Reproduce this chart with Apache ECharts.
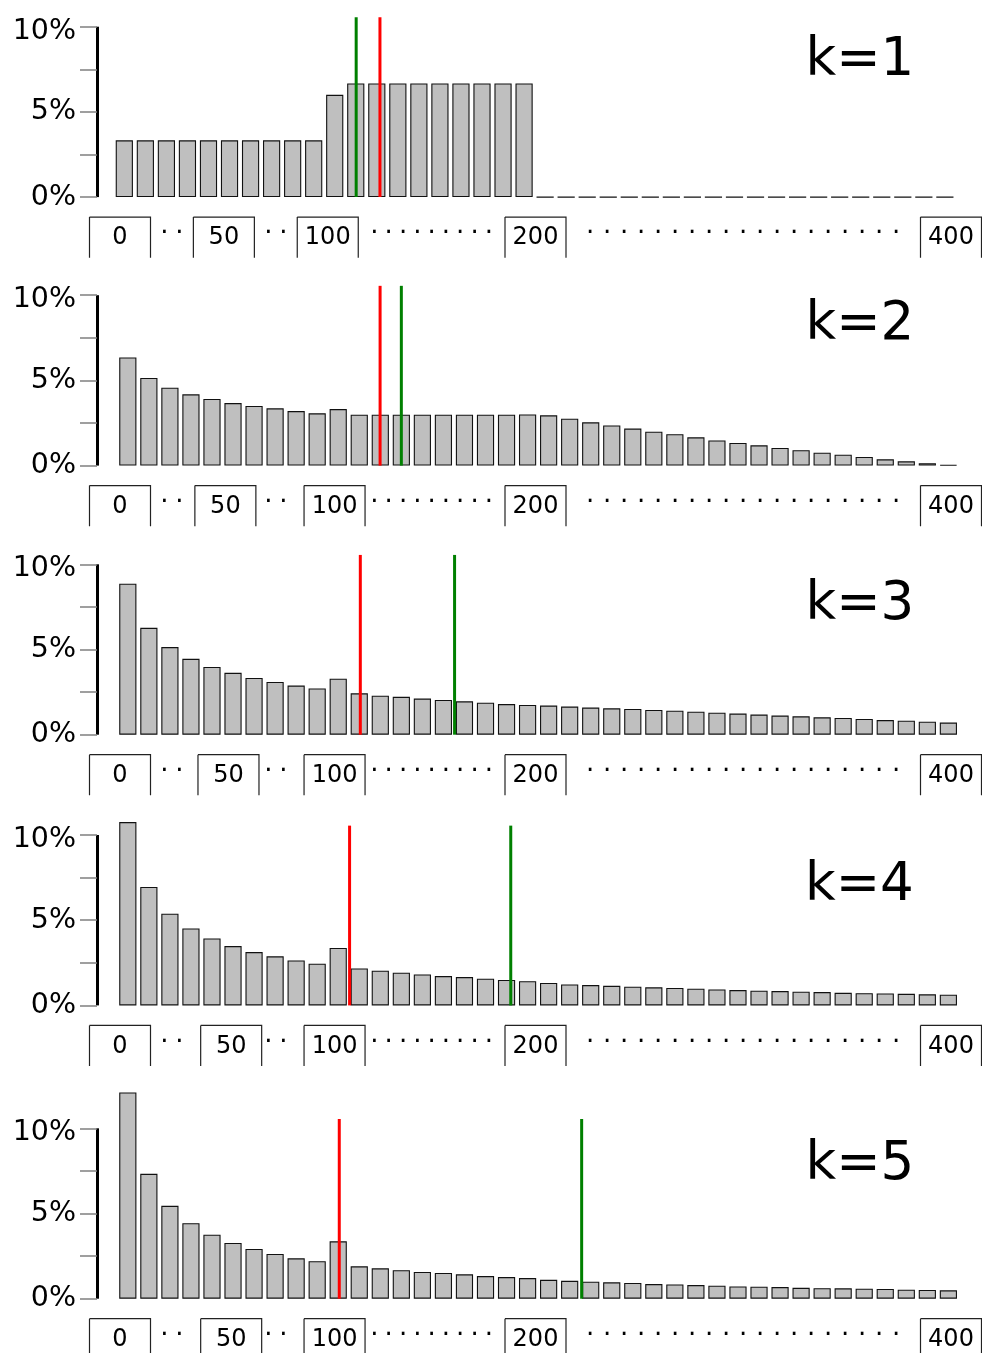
<!DOCTYPE html>
<html>
<head>
<meta charset="utf-8">
<script src="https://cdn.jsdelivr.net/npm/echarts@6/dist/echarts.min.js"></script>
<style>
  html, body { margin: 0; padding: 0; background: #fff; }
  #chart { width: 982px; height: 1353px; }
</style>
</head>
<body>
<div id="chart"></div>
<script>
// ---- data -------------------------------------------------------------
// bins of width 10 covering 0..400
const binStarts = [0, 10, 20, 30, 40, 50, 60, 70, 80, 90,
  100, 110, 120, 130, 140, 150, 160, 170, 180, 190,
  200, 210, 220, 230, 240, 250, 260, 270, 280, 290,
  300, 310, 320, 330, 340, 350, 360, 370, 380, 390];

const panelNames = ['k=1', 'k=2', 'k=3', 'k=4', 'k=5'];

// share of outcomes per bin, in percent
const shareK1 = [3.33, 3.33, 3.33, 3.33, 3.33, 3.33, 3.33, 3.33, 3.33, 3.33,
  6.00, 6.67, 6.67, 6.67, 6.67, 6.67, 6.67, 6.67, 6.67, 6.67,
  0, 0, 0, 0, 0, 0, 0, 0, 0, 0,
  0, 0, 0, 0, 0, 0, 0, 0, 0, 0];
const shareK2 = [6.35, 5.14, 4.57, 4.18, 3.91, 3.67, 3.50, 3.36, 3.20, 3.07,
  3.32, 2.99, 2.99, 2.99, 2.99, 2.99, 2.99, 2.99, 2.99, 3.00,
  2.95, 2.75, 2.54, 2.36, 2.17, 1.99, 1.84, 1.66, 1.48, 1.33,
  1.19, 1.04, 0.90, 0.76, 0.64, 0.51, 0.37, 0.25, 0.14, 0.04];
const shareK3 = [8.86, 6.27, 5.14, 4.45, 3.98, 3.63, 3.33, 3.10, 2.88, 2.71,
  3.29, 2.43, 2.29, 2.22, 2.12, 2.04, 1.96, 1.88, 1.80, 1.75,
  1.71, 1.65, 1.59, 1.55, 1.51, 1.45, 1.41, 1.35, 1.29, 1.24,
  1.18, 1.12, 1.08, 1.02, 0.98, 0.92, 0.86, 0.82, 0.76, 0.71];
const shareK4 = [10.76, 6.95, 5.38, 4.52, 3.93, 3.48, 3.13, 2.88, 2.64, 2.45,
  3.37, 2.17, 2.04, 1.92, 1.82, 1.72, 1.66, 1.57, 1.49, 1.42,
  1.32, 1.23, 1.19, 1.15, 1.10, 1.06, 1.02, 0.98, 0.94, 0.90,
  0.86, 0.84, 0.80, 0.78, 0.74, 0.72, 0.70, 0.68, 0.65, 0.63];
const shareK5 = [12.10, 7.33, 5.45, 4.43, 3.76, 3.27, 2.92, 2.63, 2.37, 2.20,
  3.37, 1.90, 1.78, 1.67, 1.57, 1.51, 1.43, 1.33, 1.27, 1.21,
  1.11, 1.05, 1.00, 0.96, 0.92, 0.86, 0.84, 0.80, 0.76, 0.72,
  0.70, 0.68, 0.64, 0.62, 0.61, 0.59, 0.57, 0.53, 0.51, 0.49];

// red and green reference values per panel
const redMarks = [126.5, 124.9, 115.5, 110.4, 105.5];
const greenMarks = [115.2, 135.0, 160.3, 187.0, 220.7];
const markTop = 10.55;   // how far up (in %) the reference lines reach

// tick labels of the value row and the number of dots between them
const rowTicks = [0, 50, 100, 200, 400];
const dotRuns = [2, 2, 9, 19];

// y axis ticks (percent)
const yMin = 0, yMax = 10, yStep = 2.5;

// ---- layout & style ---------------------------------------------------
const FONT = 'DejaVu Sans';
const gridTop = [26.7, 295.2, 564.3, 835.0, 1128.3];
const gridLeft = [113.8, 117.3, 117.3, 117.3, 117.3];
const gridW = 841.6, gridH = 170.4;
const axisX = 97;
const titlePos = [[800.5, 29.7], [800.5, 294.1], [800.5, 574.1], [800, 855.1], [800.5, 1134.1]];
// small horizontal shifts (px) of some boxed labels in each row
const rowNudge = [{}, {50: 1.5, 100: 6.8}, {50: 4.6, 100: 6.8}, {50: 7.3, 100: 6.8}, {50: 7.3, 100: 6.8}];
const dotPitch = [15, 15, 14.3, 17];

const boxW = 61, boxH = 42, boxSide = 40.6;

const shares = [shareK1, shareK2, shareK3, shareK4, shareK5];
const binWidth = binStarts[1] - binStarts[0];

function rowRich(nudge) {
  const rich = {
    box: {
      width: boxW, height: boxH, lineHeight: boxH, align: 'center',
      fontSize: 24, fontFamily: FONT, color: '#000',
      borderColor: '#222', borderWidth: 1.2,
      // top, right side and left side only; bottom edge left open
      borderType: [boxW + boxSide, (boxH - boxSide) * 2 + boxW, boxSide]
    }
  };
  dotPitch.forEach(function (w, j) {
    rich['dot' + j] = { width: w, align: 'center', fontSize: 26, fontFamily: FONT, color: '#000', lineHeight: 35 };
  });
  Object.keys(nudge).forEach(function (k) {
    rich['gap' + k] = { width: Math.abs(2 * nudge[k]), fontSize: 24, lineHeight: boxH };
  });
  return rich;
}

function rowFormatter(nudge) {
  return function (v) {
    if (rowTicks.indexOf(v) >= 0) {
      const dx = nudge[v] || 0;
      const box = '{box|' + v + '}';
      if (dx > 0) return '{gap' + v + '| }' + box;
      if (dx < 0) return box + '{gap' + v + '| }';
      return box;
    }
    for (let j = 0; j < rowTicks.length - 1; j++) {
      if ((rowTicks[j] + rowTicks[j + 1]) / 2 === v) {
        return new Array(dotRuns[j]).fill('{dot' + j + '|\u00b7}').join('');
      }
    }
    return '';
  };
}

const option = {
  animation: false,
  backgroundColor: '#fff',
  textStyle: { fontFamily: FONT },
  title: [], grid: [], xAxis: [], yAxis: [], series: []
};

panelNames.forEach(function (name, i) {
  const barGrid = 2 * i, rowGrid = 2 * i + 1;
  const base = gridTop[i] + gridH;

  option.title.push({
    text: name, left: titlePos[i][0], top: titlePos[i][1], padding: 5,
    textStyle: { fontSize: 53, fontWeight: 'normal', color: '#000', fontFamily: FONT, lineHeight: 53 }
  });

  option.grid.push({ left: gridLeft[i], top: gridTop[i], width: gridW, height: gridH, containLabel: false, outerBoundsMode: 'none' });
  option.grid.push({ left: 120, right: 31, top: base + 19, height: 1, containLabel: false, outerBoundsMode: 'none' });

  option.xAxis.push({ gridIndex: barGrid, type: 'value', min: binStarts[0], max: binStarts[binStarts.length - 1] + binWidth, show: false });
  option.xAxis.push({
    gridIndex: rowGrid, type: 'value', min: rowTicks[0], max: rowTicks[rowTicks.length - 1], interval: 25,
    position: 'bottom',
    axisLine: { show: false }, axisTick: { show: false }, splitLine: { show: false },
    axisLabel: {
      show: true, margin: 0, showMinLabel: true, showMaxLabel: true, hideOverlap: false,
      formatter: rowFormatter(rowNudge[i]), rich: rowRich(rowNudge[i])
    }
  });

  option.yAxis.push({
    gridIndex: barGrid, type: 'value', min: yMin, max: yMax, interval: yStep,
    position: 'left',
    offset: gridLeft[i] - axisX,
    axisLine: { show: true, onZero: false, lineStyle: { color: '#000', width: 3, cap: 'butt' } },
    axisTick: { show: true, length: 17, lineStyle: { color: '#808080', width: 1.5 } },
    splitLine: { show: false },
    axisLabel: {
      show: true, margin: 21, fontSize: 28.5, color: '#000', fontFamily: FONT,
      showMinLabel: true, showMaxLabel: true,
      formatter: function (v) {
        if (v === yMax) return '{hi|' + v + '%}';
        return v % 5 === 0 ? v + '%' : '';
      },
      rich: { hi: { fontSize: 28.5, fontFamily: FONT, color: '#000', padding: [9, 0, 0, 0] } }
    }
  });
  option.yAxis.push({ gridIndex: rowGrid, type: 'value', show: false });

  option.series.push({
    type: 'bar', name: name, xAxisIndex: barGrid, yAxisIndex: barGrid,
    data: binStarts.map(function (b, j) { return [b + binWidth / 2, shares[i][j]]; }),
    barWidth: 17.2, clip: false, silent: true,
    itemStyle: { color: '#bfbfbf', borderColor: '#111', borderWidth: 1.1 }
  });
  [[redMarks[i], '#ff0000'], [greenMarks[i], '#008000']].forEach(function (m) {
    option.series.push({
      type: 'line', xAxisIndex: barGrid, yAxisIndex: barGrid,
      data: [[m[0], 0], [m[0], markTop]],
      symbol: 'none', clip: false, silent: true, z: 5,
      lineStyle: { color: m[1], width: 3, cap: 'butt' }
    });
  });
});

const chart = echarts.init(document.getElementById('chart'), null, { renderer: 'canvas', width: 982, height: 1353 });
chart.setOption(option);
</script>
</body>
</html>
